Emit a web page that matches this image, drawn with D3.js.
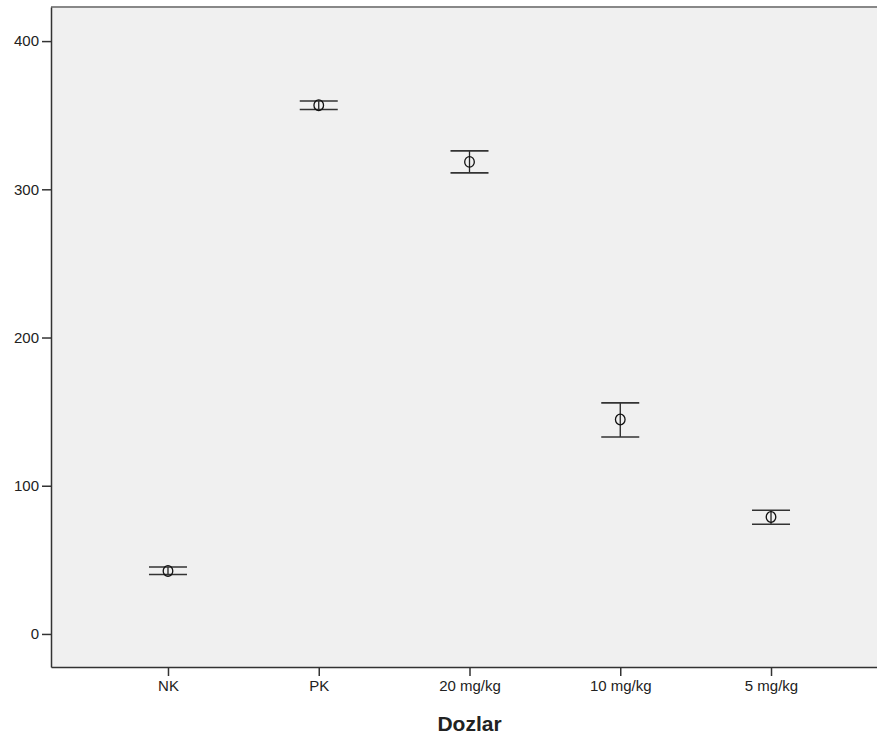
<!DOCTYPE html>
<html>
<head>
<meta charset="utf-8">
<script src="https://cdn.jsdelivr.net/npm/d3@7"></script>
<style>
html,body{margin:0;padding:0;background:#fff;overflow:hidden;}
svg{display:block;}
text{font-family:"Liberation Sans",Arial,sans-serif;fill:#222;}
</style>
</head>
<body>
<svg id="chart" width="877" height="738"></svg>
<script>
const categories = ["NK", "PK", "20 mg/kg", "10 mg/kg", "5 mg/kg"];
const means = [42.5, 356.7, 318.5, 144.7, 78.9];
const upper = [45.2, 359.6, 325.9, 155.9, 83.5];
const lower = [40.1, 353.8, 311.1, 132.9, 74.0];
const yTicks = [0, 100, 200, 300, 400];
const xTitle = "Dozlar";

const svg = d3.select("#chart");
const L = 51, T = 7, R = 888, B = 667;

const x = d3.scalePoint().domain(categories).range([L, R]).padding(0.776);
const y = d3.scaleLinear().domain([-22.3, 423]).range([B, T]);

svg.append("rect").attr("x", L).attr("y", T).attr("width", R - L).attr("height", B - T)
  .attr("fill", "#f0f0f0");
// top border
svg.append("line").attr("x1", L).attr("x2", R).attr("y1", T).attr("y2", T)
  .attr("stroke", "#888").attr("stroke-width", 2);

const yAxis = svg.append("g").attr("transform", `translate(${L},0)`)
  .call(d3.axisLeft(y).tickValues(yTicks).tickSize(9).tickPadding(3).tickSizeOuter(0));
yAxis.select(".domain").attr("stroke", "#333").attr("stroke-width", 1.5);
yAxis.selectAll(".tick line").attr("stroke", "#333").attr("stroke-width", 1.5);
yAxis.selectAll("text").style("font-size", "15px").attr("fill", "#222")
  .style("font-family", '"Liberation Sans",Arial,sans-serif');

const xAxis = svg.append("g").attr("transform", `translate(0,${B})`)
  .call(d3.axisBottom(x).tickSize(9).tickPadding(4).tickSizeOuter(0));
xAxis.select(".domain").attr("stroke", "#333").attr("stroke-width", 1.5);
xAxis.selectAll(".tick line").attr("stroke", "#333").attr("stroke-width", 1.5);
xAxis.selectAll("text").style("font-size", "15px").attr("fill", "#222")
  .style("font-family", '"Liberation Sans",Arial,sans-serif');

svg.append("text").attr("x", (x("20 mg/kg"))).attr("y", 731)
  .attr("text-anchor", "middle").style("font-size", "21px").style("font-weight", "bold")
  .attr("fill", "#111").text(xTitle);

const g = svg.append("g");
const data = categories.map((c, i) => ({ c, m: means[i], u: upper[i], l: lower[i] }));
const cap = 19;
data.forEach(d => {
  const cx = x(d.c);
  g.append("line").attr("x1", cx).attr("x2", cx).attr("y1", y(d.u)).attr("y2", y(d.l))
    .attr("stroke", "#222").attr("stroke-width", 1.3);
  g.append("line").attr("x1", cx - cap).attr("x2", cx + cap).attr("y1", y(d.u)).attr("y2", y(d.u))
    .attr("stroke", "#333").attr("stroke-width", 1.6);
  g.append("line").attr("x1", cx - cap).attr("x2", cx + cap).attr("y1", y(d.l)).attr("y2", y(d.l))
    .attr("stroke", "#333").attr("stroke-width", 1.6);
  g.append("ellipse").attr("cx", cx).attr("cy", y(d.m)).attr("rx", 4.8).attr("ry", 5.3)
    .attr("fill", "none").attr("stroke", "#111").attr("stroke-width", 1.3);
});
</script>
</body>
</html>
